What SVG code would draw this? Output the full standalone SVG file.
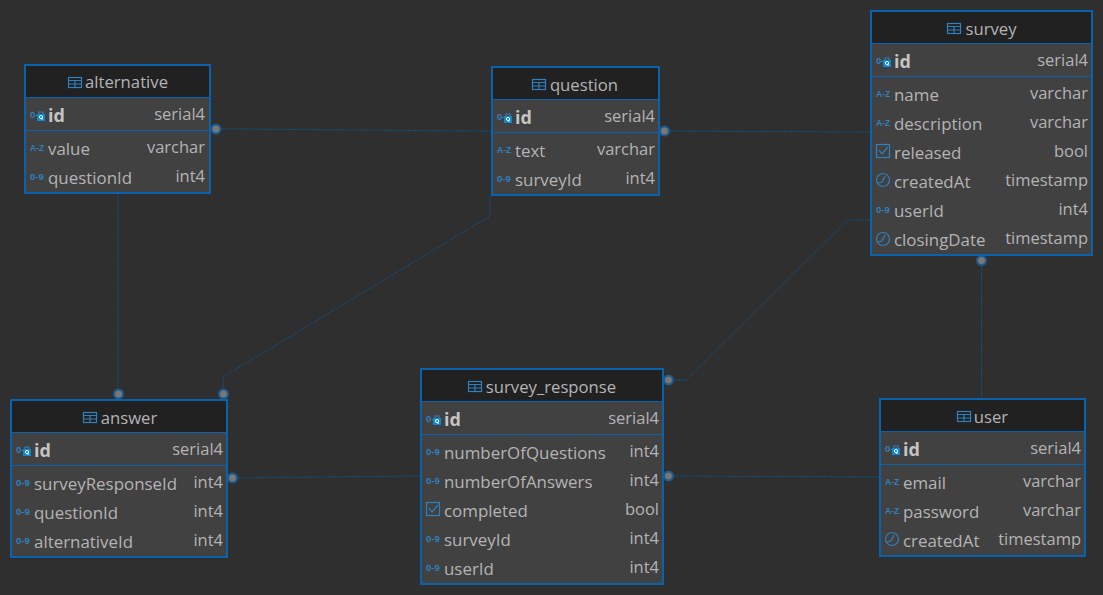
<svg xmlns="http://www.w3.org/2000/svg" width="1103" height="595" viewBox="0 0 1103 595">
<style>
text{font-family:"Open Sans","Noto Sans","Liberation Sans",sans-serif;fill:#b4b4b4;font-size:16.9px}
.box{fill:#414141;stroke:#0a62ad;stroke-width:2}
.head{fill:#212121}
.sep{stroke:#0a62ad;stroke-width:1}
text.t{text-anchor:middle;font-size:16.7px}
text.ty{text-anchor:end;font-size:16.5px}
text.pk{font-weight:700;fill:#c4c4c4;font-size:18px}
text.ic{font-size:9.5px;font-weight:700;fill:#2f80bd;font-family:"Liberation Sans",sans-serif}
text.az{font-size:8.5px}
.ln{fill:none;stroke:#0f5285;stroke-width:1;stroke-dasharray:2 1}
.dot{fill:#777;stroke:#1c5a8f;stroke-width:2}
.is{fill:none;stroke:#2f80bd;stroke-width:1.2}
</style>
<defs>
<g id="i-tab"><rect x="0.5" y="0.5" width="13" height="10" class="is"/><path d="M0.5 3.5H13.5M0.5 7H13.5M7 3.5V10.5" class="is"/></g>
<g id="i-pk"><text x="0" y="1" class="ic">0-</text><rect x="7" y="-3" width="8" height="7" fill="#0c87d4"/><path d="M9 -3V-5H13V-3" class="is"/><circle cx="11" cy="0" r="1.6" fill="none" stroke="#fff"/><path d="M12 1V3" stroke="#fff"/></g>
<g id="i-num"><text x="0" y="3" class="ic">0-9</text></g>
<g id="i-az"><text x="0" y="3" class="ic az">A-Z</text></g>
<g id="i-chk"><rect x="0.5" y="-6.5" width="13" height="13" class="is"/><path d="M3 -1L6 3L12 -4" class="is"/></g>
<g id="i-clk"><circle cx="7" cy="0" r="6.5" class="is"/><path d="M9 -4L6 2L2 3" class="is"/></g>
</defs>
<rect width="1103" height="595" fill="#2f2f2f"/>
<g id="connectors">
<path class="ln" d="M216 129H232L478 131H491"/>
<path class="ln" d="M664 131H680L858 132H870"/>
<path class="ln" d="M118 193V394"/>
<path class="ln" d="M490 196V216L223 377V394"/>
<path class="ln" d="M870 220H848L686 380H668"/>
<path class="ln" d="M981.500 260V399"/>
<path class="ln" d="M232 478L420 476"/>
<path class="ln" d="M668 476L879 477"/>
<circle class="dot" cx="216" cy="129" r="4.500"/>
<circle class="dot" cx="664.500" cy="131" r="4.500"/>
<circle class="dot" cx="118.500" cy="394" r="4.500"/>
<circle class="dot" cx="223.500" cy="394" r="4.500"/>
<circle class="dot" cx="668.500" cy="380" r="4.500"/>
<circle class="dot" cx="981.500" cy="260.500" r="4.500"/>
<circle class="dot" cx="232.500" cy="478" r="4.500"/>
<circle class="dot" cx="668.500" cy="476" r="4.500"/>
</g>
<g id="alternative" transform="translate(25,65)">
<rect class="box" width="185" height="128"/><rect class="head" x="1" y="1" width="183" height="31"/>
<path class="sep" d="M0 32.5H185M0 65.5H185"/>
<use href="#i-tab" x="43" y="12"/><text class="t" x="101.500" y="23">alternative</text>
<use href="#i-pk" x="5" y="52"/><text class="pk" x="23" y="57">id</text><text class="ty" x="180" y="55">serial4</text>
<use href="#i-az" x="5" y="83"/><text x="23" y="90">value</text><text class="ty" x="180" y="88">varchar</text>
<use href="#i-num" x="5" y="112"/><text x="23" y="119">questionId</text><text class="ty" x="180" y="117">int4</text>
</g>
<g id="question" transform="translate(492,67)">
<rect class="box" width="167" height="128"/><rect class="head" x="1" y="1" width="165" height="31"/>
<path class="sep" d="M0 32.5H167M0 65.5H167"/>
<use href="#i-tab" x="40" y="12"/><text class="t" x="92" y="24">question</text>
<use href="#i-pk" x="5" y="52"/><text class="pk" x="23" y="57">id</text><text class="ty" x="163" y="55">serial4</text>
<use href="#i-az" x="5" y="83"/><text x="23" y="90">text</text><text class="ty" x="163" y="88">varchar</text>
<use href="#i-num" x="5" y="112"/><text x="23" y="119">surveyId</text><text class="ty" x="163" y="117">int4</text>
</g>
<g id="survey" transform="translate(871,11)">
<rect class="box" width="221" height="244"/><rect class="head" x="1" y="1" width="219" height="31"/>
<path class="sep" d="M0 32.5H221M0 65.5H221"/>
<use href="#i-tab" x="76" y="12"/><text class="t" x="120" y="24">survey</text>
<use href="#i-pk" x="5" y="52"/><text class="pk" x="23" y="57">id</text><text class="ty" x="217" y="55">serial4</text>
<use href="#i-az" x="5" y="83"/><text x="23" y="90">name</text><text class="ty" x="217" y="88">varchar</text>
<use href="#i-az" x="5" y="112"/><text x="23" y="119">description</text><text class="ty" x="217" y="117">varchar</text>
<use href="#i-chk" x="5" y="140"/><text x="23" y="148">released</text><text class="ty" x="217" y="146">bool</text>
<use href="#i-clk" x="5" y="169"/><text x="23" y="177">createdAt</text><text class="ty" x="217" y="175">timestamp</text>
<use href="#i-num" x="5" y="199"/><text x="23" y="206">userId</text><text class="ty" x="217" y="204">int4</text>
<use href="#i-clk" x="5" y="228"/><text x="23" y="235">closingDate</text><text class="ty" x="217" y="233">timestamp</text>
</g>
<g id="answer" transform="translate(11,400)">
<rect class="box" width="216" height="157"/><rect class="head" x="1" y="1" width="214" height="31"/>
<path class="sep" d="M0 32.5H216M0 65.5H216"/>
<use href="#i-tab" x="72" y="12"/><text class="t" x="118" y="24">answer</text>
<use href="#i-pk" x="5" y="52"/><text class="pk" x="23" y="57">id</text><text class="ty" x="212" y="55">serial4</text>
<use href="#i-num" x="5" y="83"/><text x="23" y="90">surveyResponseId</text><text class="ty" x="212" y="88">int4</text>
<use href="#i-num" x="5" y="112"/><text x="23" y="119">questionId</text><text class="ty" x="212" y="117">int4</text>
<use href="#i-num" x="5" y="141"/><text x="23" y="148">alternativeId</text><text class="ty" x="212" y="146">int4</text>
</g>
<g id="survey_response" transform="translate(421,369)">
<rect class="box" width="242" height="215"/><rect class="head" x="1" y="1" width="240" height="31"/>
<path class="sep" d="M0 32.5H242M0 65.5H242"/>
<use href="#i-tab" x="47" y="12"/><text class="t" x="130" y="24">survey_response</text>
<use href="#i-pk" x="5" y="52"/><text class="pk" x="23" y="57">id</text><text class="ty" x="238" y="55">serial4</text>
<use href="#i-num" x="5" y="83"/><text x="23" y="90">numberOfQuestions</text><text class="ty" x="238" y="88">int4</text>
<use href="#i-num" x="5" y="112"/><text x="23" y="119">numberOfAnswers</text><text class="ty" x="238" y="117">int4</text>
<use href="#i-chk" x="5" y="140"/><text x="23" y="148">completed</text><text class="ty" x="238" y="146">bool</text>
<use href="#i-num" x="5" y="170"/><text x="23" y="177">surveyId</text><text class="ty" x="238" y="175">int4</text>
<use href="#i-num" x="5" y="199"/><text x="23" y="206">userId</text><text class="ty" x="238" y="204">int4</text>
</g>
<g id="user" transform="translate(880,399)">
<rect class="box" width="205" height="157"/><rect class="head" x="1" y="1" width="203" height="31"/>
<path class="sep" d="M0 32.5H205M0 65.5H205"/>
<use href="#i-tab" x="77" y="12"/><text class="t" x="111" y="24">user</text>
<use href="#i-pk" x="5" y="52"/><text class="pk" x="23" y="57">id</text><text class="ty" x="201" y="55">serial4</text>
<use href="#i-az" x="5" y="83"/><text x="23" y="90">email</text><text class="ty" x="201" y="88">varchar</text>
<use href="#i-az" x="5" y="112"/><text x="23" y="119">password</text><text class="ty" x="201" y="117">varchar</text>
<use href="#i-clk" x="5" y="140"/><text x="23" y="148">createdAt</text><text class="ty" x="201" y="146">timestamp</text>
</g>
</svg>
